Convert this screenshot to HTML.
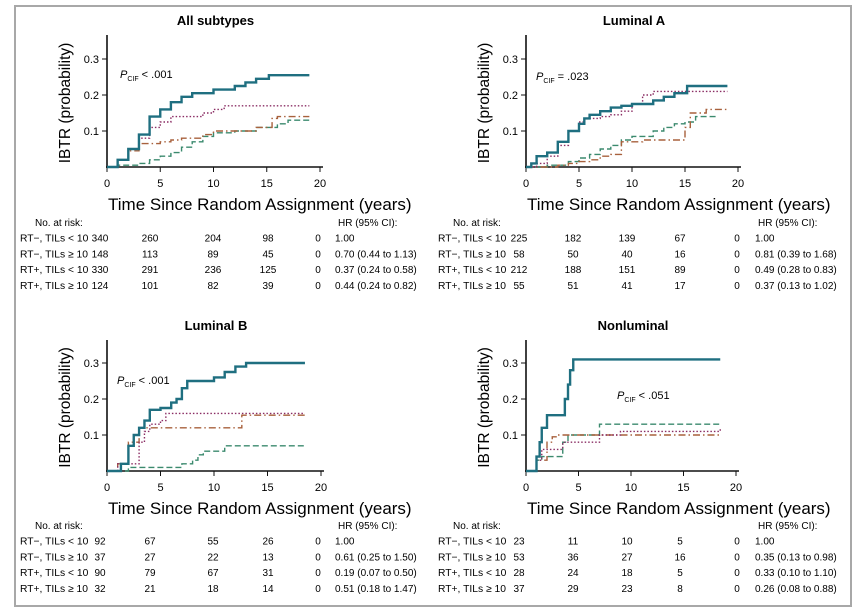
<!DOCTYPE html>
<html><head><meta charset="utf-8"><style>
html,body{margin:0;padding:0;background:#fff;width:862px;height:614px;overflow:hidden}
svg{display:block;font-family:"Liberation Sans",Arial,sans-serif}
</style></head><body>
<svg id="fig" width="862" height="614" viewBox="0 0 862 614">
<rect x="15" y="6" width="836" height="600" fill="none" stroke="#a8a8a8" stroke-width="2"/>
</svg>
<script>
// ---- data ----
const xTicks = [0, 5, 10, 15, 20];
const yTicks = [0.1, 0.2, 0.3];
const panelTitles = ["All subtypes", "Luminal A", "Luminal B", "Nonluminal"];
const pLabels = ["< .001", "= .023", "< .001", "< .051"];
const seriesNames = ["RT\u2212, TILs < 10", "RT\u2212, TILs \u2265 10", "RT+, TILs < 10", "RT+, TILs \u2265 10"];
// series order: solid, dotted, dash-dot, dashed ; times (years) and CIF values
const allSolidT = [0.7,1,2,3,4,5,6,7,8,10,12,13,14,15.2,19];
const allSolidV = [0,0.02,0.05,0.09,0.14,0.16,0.18,0.195,0.205,0.215,0.225,0.235,0.245,0.255,0.255];
const allDotT = [0.7,1,2,3,4,5,6,9,10,11,19];
const allDotV = [0,0.02,0.05,0.08,0.11,0.125,0.14,0.15,0.16,0.17,0.17];
const allDashDotT = [0.7,1,2,3,5,6,7,9,10,14,15.5,16,19];
const allDashDotV = [0,0.02,0.045,0.065,0.07,0.075,0.08,0.09,0.1,0.11,0.135,0.14,0.14];
const allDashT = [0.7,1,3,4,5,6,7,8,9,10,12,14,16,17,19];
const allDashV = [0,0.005,0.01,0.02,0.03,0.04,0.055,0.07,0.085,0.095,0.1,0.11,0.12,0.13,0.135];
const lumASolidT = [0.5,1,2,3,4,5,5.5,6,7,8,9,10,12,13,14,15.2,19];
const lumASolidV = [0.01,0.03,0.04,0.07,0.1,0.12,0.135,0.145,0.155,0.165,0.17,0.175,0.185,0.195,0.205,0.225,0.225];
const lumADotT = [0.5,1,2,3,4,5,5.5,7,8,9,10,11,12,19];
const lumADotV = [0,0.01,0.03,0.06,0.1,0.125,0.135,0.14,0.145,0.155,0.175,0.2,0.21,0.21];
const lumADashDotT = [1.5,3,4,5,6,7,8,9,11,14.5,15,15.5,17,19];
const lumADashDotV = [0,0.005,0.01,0.015,0.02,0.03,0.035,0.07,0.075,0.075,0.11,0.15,0.16,0.16];
const lumADashT = [1,2,4,5,6,7,8,9,10,12,13,14,15,16,18];
const lumADashV = [0,0.005,0.015,0.025,0.035,0.05,0.06,0.075,0.085,0.1,0.11,0.12,0.125,0.14,0.14];
const lumBSolidT = [0.5,1.3,2,2.5,3,3.5,4,5,6,6.5,7,7.5,10,11,12,13,18.5];
const lumBSolidV = [0,0.02,0.07,0.1,0.12,0.14,0.17,0.175,0.19,0.2,0.23,0.25,0.26,0.275,0.29,0.3,0.3];
const lumBDotT = [0.5,1,2.5,3,3.5,4,5,5.5,18.5];
const lumBDotV = [0,0.02,0.02,0.08,0.11,0.13,0.14,0.16,0.16];
const lumBDashDotT = [0.5,1,2,3,12.5,12.6,18.5];
const lumBDashDotV = [0,0.02,0.08,0.12,0.12,0.155,0.155];
const lumBDashT = [1.5,2,6.5,7,8,8.5,9,11,18.5];
const lumBDashV = [0,0.01,0.01,0.02,0.03,0.045,0.055,0.07,0.065];
const nonSolidT = [0.5,1,1.3,1.5,2,3.7,4,4.2,4.5,18.5];
const nonSolidV = [0,0.04,0.08,0.12,0.155,0.2,0.24,0.28,0.31,0.31];
const nonDotT = [0.5,1,1.5,3.5,7,9,18.5];
const nonDotV = [0,0.03,0.06,0.08,0.1,0.11,0.12];
const nonDashDotT = [0.5,1,2,2.5,3,18.5];
const nonDashDotV = [0,0.03,0.08,0.095,0.1,0.095];
const nonDashT = [0.5,1,1.5,3.5,4,7,18.5];
const nonDashV = [0,0.03,0.04,0.08,0.1,0.13,0.13];
// at-risk tables and HRs
const allRisk = [[340,260,204,98,0],[148,113,89,45,0],[330,291,236,125,0],[124,101,82,39,0]];
const allHR = ["1.00","0.70 (0.44 to 1.13)","0.37 (0.24 to 0.58)","0.44 (0.24 to 0.82)"];
const lumARisk = [[225,182,139,67,0],[58,50,40,16,0],[212,188,151,89,0],[55,51,41,17,0]];
const lumAHR = ["1.00","0.81 (0.39 to 1.68)","0.49 (0.28 to 0.83)","0.37 (0.13 to 1.02)"];
const lumBRisk = [[92,67,55,26,0],[37,27,22,13,0],[90,79,67,31,0],[32,21,18,14,0]];
const lumBHR = ["1.00","0.61 (0.25 to 1.50)","0.19 (0.07 to 0.50)","0.51 (0.18 to 1.47)"];
const nonRisk = [[23,11,10,5,0],[53,36,27,16,0],[28,24,18,5,0],[37,29,23,8,0]];
const nonHR = ["1.00","0.35 (0.13 to 0.98)","0.33 (0.10 to 1.10)","0.26 (0.08 to 0.88)"];

// ---- drawing ----
const NS = "http://www.w3.org/2000/svg";
const svg = document.getElementById("fig");
function mk(tag, attrs, parent, txt) {
  const e = document.createElementNS(NS, tag);
  for (const k in attrs) e.setAttribute(k, attrs[k]);
  if (txt !== undefined) e.textContent = txt;
  (parent || svg).appendChild(e);
  return e;
}
const styles = [
  {stroke:"#1f6f80", w:2.4, dash:""},
  {stroke:"#8a2c63", w:1.4, dash:"1.5 2"},
  {stroke:"#a8613d", w:1.4, dash:"7 3 1.5 3"},
  {stroke:"#3b8a6e", w:1.4, dash:"6 3"}
];
const styleNames = ["solid","dotted","dash-dot","dashed"];
const panels = [
  {x0:107,y0:167,top:35,xs:10.65,series:[[allSolidT,allSolidV],[allDotT,allDotV],[allDashDotT,allDashDotV],[allDashT,allDashV]],risk:allRisk,hr:allHR,px:120,py:78,tx:20,ty:226,cols:[100,150,213,268,318],hx:335,key:"all-subtypes"},
  {x0:526,y0:167,top:35,xs:10.6,series:[[lumASolidT,lumASolidV],[lumADotT,lumADotV],[lumADashDotT,lumADashDotV],[lumADashT,lumADashV]],risk:lumARisk,hr:lumAHR,px:536,py:80,tx:438,ty:226,cols:[519,573,627,680,737],hx:755,key:"luminal-a"},
  {x0:107,y0:471,top:340,xs:10.7,series:[[lumBSolidT,lumBSolidV],[lumBDotT,lumBDotV],[lumBDashDotT,lumBDashDotV],[lumBDashT,lumBDashV]],risk:lumBRisk,hr:lumBHR,px:117,py:384,tx:20,ty:529,cols:[100,150,213,268,318],hx:335,key:"luminal-b"},
  {x0:526,y0:471,top:340,xs:10.5,series:[[nonSolidT,nonSolidV],[nonDotT,nonDotV],[nonDashDotT,nonDashDotV],[nonDashT,nonDashV]],risk:nonRisk,hr:nonHR,px:617,py:399,tx:438,ty:529,cols:[519,573,627,680,737],hx:755,key:"nonluminal"}
];
const YS = 360;
panels.forEach((p, i) => {
  const g = mk("g", {});
  
  
  const X = t => p.x0 + t * p.xs;
  const Y = v => p.y0 - v * YS;
  const t = mk("text", {x:X(10)+2, y:p.top-10, "text-anchor":"middle", "font-size":13, "font-weight":"bold"}, g, panelTitles[i]);
  
  
  const ya = mk("line", {x1:p.x0, y1:p.top, x2:p.x0, y2:p.y0+1, stroke:"#111", "stroke-width":1.6}, g);
  
  
  const xa = mk("line", {x1:p.x0-1, y1:p.y0, x2:X(20)+3, y2:p.y0, stroke:"#111", "stroke-width":1.6}, g);
  
  
  xTicks.forEach(v => {
    mk("line", {x1:X(v), y1:p.y0, x2:X(v), y2:p.y0+5, stroke:"#111", "stroke-width":1}, g);
    const l = mk("text", {x:X(v), y:p.y0+20, "text-anchor":"middle", "font-size":11}, g, v);
    
    
  });
  yTicks.forEach(v => {
    mk("line", {x1:p.x0-5, y1:Y(v), x2:p.x0, y2:Y(v), stroke:"#111", "stroke-width":1}, g);
    const l = mk("text", {x:p.x0-8, y:Y(v)+4, "text-anchor":"end", "font-size":11}, g, v.toFixed(1));
    
    
  });
  const yt = mk("text", {transform:`translate(${p.x0-37},${(p.top+p.y0)/2+2}) rotate(-90)`, "text-anchor":"middle", "font-size":15.5}, g, "IBTR (probability)");
  
  
  const xt = mk("text", {x:p.x0+1, y:p.y0+43, "font-size":17}, g, "Time Since Random Assignment (years)");
  
  
  const pt = mk("text", {x:p.px, y:p.py, "font-size":11}, g);
  
  
  mk("tspan", {"font-style":"italic"}, pt, "P");
  mk("tspan", {"font-size":7, dy:3}, pt, "CIF");
  mk("tspan", {dy:-3}, pt, " " + pLabels[i]);
  for (let s = 3; s >= 0; s--) {
    const [T, V] = p.series[s];
    let d = "M" + X(0) + "," + Y(0) + " L" + X(T[0]) + "," + Y(0);
    for (let k = 0; k < T.length; k++) {
      const prev = k === 0 ? 0 : V[k-1];
      d += " L" + X(T[k]) + "," + Y(prev) + " L" + X(T[k]) + "," + Y(V[k]);
    }
    const st = styles[s];
    const path = mk("path", {d, fill:"none", stroke:st.stroke, "stroke-width":st.w, "stroke-dasharray":st.dash}, g);
    
    
  }
  const h1 = mk("text", {x:p.tx+15, y:p.ty, "font-size":10}, g, "No. at risk:");
  
  
  const h2 = mk("text", {x:p.hx+3, y:p.ty, "font-size":10}, g, "HR (95% CI):");
  
  
  p.risk.forEach((row, r) => {
    const yy = p.ty + 15.7 * (r + 1);
    const lab = mk("text", {x:p.tx, y:yy, "font-size":10.3}, g, seriesNames[r]);
    
    
    row.forEach((n, c) => {
      const tx = mk("text", {x:p.cols[c], y:yy, "text-anchor":"middle", "font-size":10}, g, n);
      
      
    });
    const hr = mk("text", {x:p.hx, y:yy, "font-size":10}, g, p.hr[r]);
    
    
  });
});
</script>
</body></html>
